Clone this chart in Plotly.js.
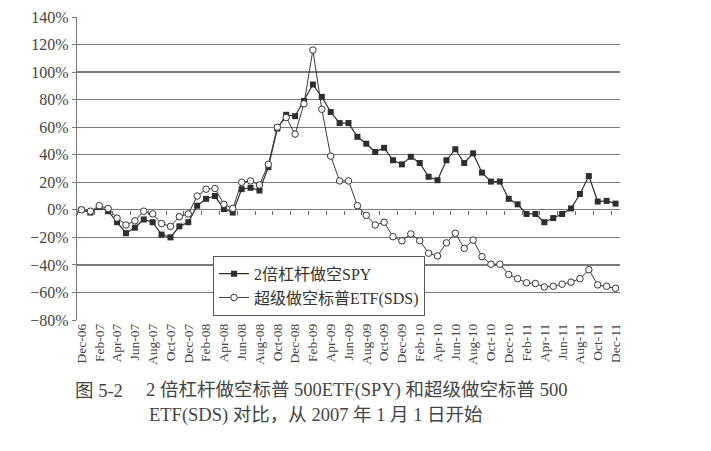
<!DOCTYPE html>
<html>
<head>
<meta charset="utf-8">
<script src="https://cdn.plot.ly/plotly-3.0.1.min.js"></script>
<style>html,body{margin:0;padding:0;background:#fff;}#chart{width:711px;height:451px;}</style>
</head>
<body>
<div id="chart"></div>
<script>
// ---- data ----
var months = ["Dec-06",
  "Jan-07","Feb-07","Mar-07","Apr-07","May-07","Jun-07","Jul-07","Aug-07","Sep-07","Oct-07","Nov-07","Dec-07",
  "Jan-08","Feb-08","Mar-08","Apr-08","May-08","Jun-08","Jul-08","Aug-08","Sep-08","Oct-08","Nov-08","Dec-08",
  "Jan-09","Feb-09","Mar-09","Apr-09","May-09","Jun-09","Jul-09","Aug-09","Sep-09","Oct-09","Nov-09","Dec-09",
  "Jan-10","Feb-10","Mar-10","Apr-10","May-10","Jun-10","Jul-10","Aug-10","Sep-10","Oct-10","Nov-10","Dec-10",
  "Jan-11","Feb-11","Mar-11","Apr-11","May-11","Jun-11","Jul-11","Aug-11","Sep-11","Oct-11","Nov-11","Dec-11"];

var spy = [0, -2, 2, -1, -9, -17, -13, -7, -9, -18,
  -20, -12, -9, 3, 8, 10, 0.5, -2, 15, 16,
  14, 31, 59, 69, 68, 79, 91, 82, 71, 63,
  63, 53, 48, 42, 45, 36, 33, 38.5, 34, 24,
  21.5, 36, 44, 34, 41, 27, 20.5, 20.5, 8, 4,
  -3, -3, -9, -6, -3, 1, 11.5, 24.5, 6, 6.5,
  4.5];

var sds = [0, -1, 3, 1, -6, -11, -8, -1, -3, -10,
  -12, -5, -3, 10, 15, 15.5, 4, 1, 20, 21,
  18, 33, 60, 67, 55, 77, 116, 73, 39, 21,
  21, 3, -4, -11, -9, -19.5, -22.5, -17.5, -22.5, -31.5,
  -33.5, -24, -17, -28, -22, -34, -39.5, -39.5, -47, -50,
  -53, -53.5, -56, -55.5, -54, -52.5, -50, -43.5, -54.5, -55.5,
  -57];

var seriesNames = ["2倍杠杆做空SPY", "超级做空标普ETF(SDS)"];
var yTicks = [-80, -60, -40, -20, 0, 20, 40, 60, 80, 100, 120, 140];
var captionLabel = "图 5-2";
var captionLine1 = "2 倍杠杆做空标普 500ETF(SPY) 和超级做空标普 500";
var captionLine2 = "ETF(SDS) 对比，从 2007 年 1 月 1 日开始";

// ---- chart ----
var FONT = "Liberation Serif, Noto Sans CJK SC, serif";
var xIdx = months.map(function(m, i){ return i; });
var tickIdx = xIdx.filter(function(i){ return i % 2 === 0; });
var tickTxt = tickIdx.map(function(i){ return months[i]; });
var yTickTxt = yTicks.map(function(v){ return (v < 0 ? '\u2212' + Math.abs(v) : String(v)) + '%'; });

var traces = [
  {x: xIdx, y: spy, name: seriesNames[0], type: 'scatter', mode: 'lines+markers',
   line: {color: '#2e2e2e', width: 1.2},
   marker: {symbol: 'square', size: 6, color: '#2e2e2e'}},
  {x: xIdx, y: sds, name: seriesNames[1], type: 'scatter', mode: 'lines+markers',
   line: {color: '#3a3a3a', width: 1},
   marker: {symbol: 'circle', size: 6.5, color: '#ffffff', line: {color: '#333', width: 1}}},
  // empty trace that only activates the overlaid x-axis drawn at 0%
  {x: [], y: [], xaxis: 'x2', yaxis: 'y', showlegend: false, hoverinfo: 'skip', type: 'scatter', mode: 'lines'}
];

var layout = {
  width: 711, height: 451,
  margin: {l: 77, r: 91, t: 17, b: 131},
  paper_bgcolor: '#ffffff', plot_bgcolor: '#ffffff',
  showlegend: true,
  font: {family: FONT, color: '#3a3a3a'},
  xaxis: {
    range: [-0.5, 60.5], tickmode: 'array', tickvals: tickIdx, ticktext: tickTxt,
    tickangle: -90, tickfont: {family: FONT, size: 13.5, color: '#444'},
    ticks: '', showgrid: false, zeroline: false, showline: false
  },
  xaxis2: {
    overlaying: 'x', anchor: 'free', position: 80/220, side: 'bottom',
    range: [-0.5, 60.5], tick0: -0.5, dtick: 2, ticks: 'outside', ticklen: 4,
    tickcolor: '#666', showticklabels: false, showgrid: false, zeroline: false,
    showline: false
  },
  yaxis: {
    range: [-80, 140], tickmode: 'array', tickvals: yTicks, ticktext: yTickTxt,
    tickfont: {family: FONT, size: 16, color: '#444'},
    ticks: 'outside', ticklen: 4, tickcolor: '#777',
    showgrid: true, gridcolor: '#7a7a7a', gridwidth: 1.3,
    showline: true, linecolor: '#777', linewidth: 1.2, zeroline: false
  },
  legend: {
    x: 0.2505, y: 0.212, xanchor: 'left', yanchor: 'top',
    bgcolor: '#ffffff', bordercolor: '#555', borderwidth: 1,
    font: {family: FONT, size: 16, color: '#333'},
    itemwidth: 30, tracegroupgap: 0
  },
  annotations: [
    {text: captionLabel, xref: 'paper', yref: 'paper', x: -0.007, y: -0.2327,
     xanchor: 'left', yanchor: 'middle', showarrow: false,
     font: {family: FONT, size: 18.5, color: '#444'}},
    {text: captionLine1, xref: 'paper', yref: 'paper', x: 0.1234, y: -0.2327,
     xanchor: 'left', yanchor: 'middle', showarrow: false,
     font: {family: FONT, size: 18.5, color: '#444'}},
    {text: captionLine2, xref: 'paper', yref: 'paper', x: 0.1289, y: -0.3136,
     xanchor: 'left', yanchor: 'middle', showarrow: false,
     font: {family: FONT, size: 18.5, color: '#444'}}
  ]
};

Plotly.newPlot('chart', traces, layout, {staticPlot: true, displayModeBar: false});
</script>
</body>
</html>
